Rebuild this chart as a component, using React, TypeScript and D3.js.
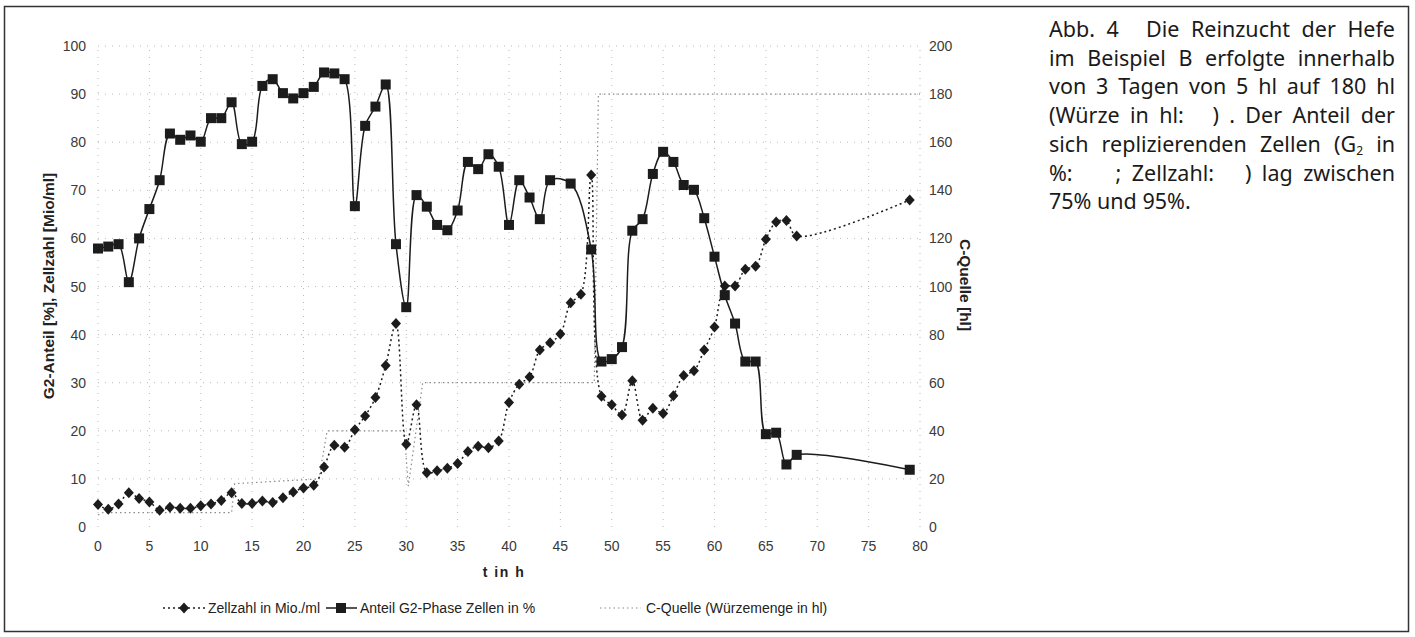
import React from "react";
import * as d3 from "d3";

// ---- data ----
const zellT = [0,1,2,3,4,5,6,7,8,9,10,11,12,13,14,15,16,17,18,19,20,21,22,23,24,25,26,27,28,29,30,31,32,33,34,35,36,37,38,39,40,41,42,43,44,45,46,47,48,49,50,51,52,53,54,55,56,57,58,59,60,61,62,63,64,65,66,67,68,79];
const zellV = [4.7,3.7,4.8,7.1,5.9,5.2,3.5,4.1,3.9,3.9,4.4,4.8,5.5,7.1,4.9,4.9,5.4,5.1,6.1,7.3,8.1,8.7,12.5,17.0,16.6,20.2,23.1,26.9,33.6,42.3,17.2,25.4,11.3,11.7,12.2,13.2,15.7,16.8,16.5,17.9,25.9,29.7,31.2,36.8,38.3,40.1,46.6,48.4,73.2,27.2,25.4,23.3,30.4,22.2,24.7,23.6,27.3,31.5,32.5,36.8,41.6,50.1,50.1,53.6,54.2,59.8,63.4,63.7,60.5,68.0];

const g2T = [0,1,2,3,4,5,6,7,8,9,10,11,12,13,14,15,16,17,18,19,20,21,22,23,24,25,26,27,28,29,30,31,32,33,34,35,36,37,38,39,40,41,42,43,44,46,48,49,50,51,52,53,54,55,56,57,58,59,60,61,62,63,64,65,66,67,68,79];
const g2V = [57.9,58.3,58.8,50.9,60.0,66.1,72.1,81.8,80.5,81.4,80.1,85.0,85.0,88.3,79.6,80.1,91.7,93.1,90.2,89.1,90.2,91.5,94.5,94.3,93.1,66.7,83.4,87.4,92.0,58.8,45.7,69.0,66.6,62.8,61.7,65.8,75.9,74.4,77.5,74.9,62.8,72.1,68.5,64.0,72.1,71.4,57.7,34.4,34.9,37.4,61.6,64.0,73.4,78.0,75.9,71.1,70.1,64.2,56.2,48.2,42.3,34.4,34.4,19.3,19.6,13.0,15.0,11.9];

// C-Quelle (wort volume in hl, right axis) - step-like course
const cqT = [0,0.5,13,13.3,21.5,22.3,29.8,30.2,31.6,48.3,48.7,80];
const cqV = [5,6,6,18,20,40,40,17,60,60,180,180];

const xTicks = [0,5,10,15,20,25,30,35,40,45,50,55,60,65,70,75,80];
const leftTicks = [0,10,20,30,40,50,60,70,80,90,100];
const rightTicks = [0,20,40,60,80,100,120,140,160,180,200];

// caption tokens; "_N" = blank of N px (removed symbol), "(G2" rendered with subscript
const captionLines: string[][] = [
  ["Abb.", "4", "_4", "Die", "Reinzucht", "der", "Hefe"],
  ["im", "Beispiel", "B", "erfolgte", "innerhalb"],
  ["von", "3", "Tagen", "von", "5", "hl", "auf", "180", "hl"],
  ["(Würze", "in", "hl:", "_8", ")", ".", "Der", "Anteil", "der"],
  ["sich", "replizierenden", "Zellen", "(G2", "in"],
  ["%:", "_22", ";", "Zellzahl:", "_10", ")", "lag", "zwischen"],
  ["75%", "und", "95%."],
];

const FONT = "'Liberation Sans', Arial, sans-serif";
const CAP_FONT = "'Noto Sans', 'Open Sans', sans-serif";
const CAP_SIZE = 21.5;
const SUB_SIZE = 12;

let ctx: CanvasRenderingContext2D | null = null;
function measure(text: string, size: number): number {
  if (!ctx && typeof document !== "undefined") {
    ctx = document.createElement("canvas").getContext("2d");
  }
  if (!ctx) return text.length * size * 0.55;
  ctx.font = `${size}px ${CAP_FONT}`;
  return ctx.measureText(text).width;
}
function tokenWidth(tok: string): number {
  if (tok.startsWith("_")) return Number(tok.slice(1));
  if (tok === "(G2") return measure("(G", CAP_SIZE) + measure("2", SUB_SIZE);
  return measure(tok, CAP_SIZE);
}

export default function App() {
  const x = d3.scaleLinear().domain([0, 80]).range([98, 920]);
  const yL = d3.scaleLinear().domain([0, 100]).range([527, 46]);
  const yR = d3.scaleLinear().domain([0, 200]).range([527, 46]);

  const lineL = d3
    .line<[number, number]>()
    .x((d) => x(d[0]))
    .y((d) => yL(d[1]))
    .curve(d3.curveCatmullRom.alpha(0.5));
  const lineCQ = d3
    .line<[number, number]>()
    .x((d) => x(d[0]))
    .y((d) => yR(d[1]));

  const zell = zellT.map((t, i) => [t, zellV[i]] as [number, number]);
  const g2 = g2T.map((t, i) => [t, g2V[i]] as [number, number]);
  const cq = cqT.map((t, i) => [t, cqV[i]] as [number, number]);

  const ink = "#1c1c1c";
  const diamond = (cx: number, cy: number, k: string | number) => (
    <path key={k} d={`M${cx},${cy - 5.5}L${cx + 5},${cy}L${cx},${cy + 5.5}L${cx - 5},${cy}Z`} fill={ink} />
  );
  const square = (cx: number, cy: number, k: string | number) => (
    <rect key={k} x={cx - 5} y={cy - 5} width={10} height={10} fill={ink} />
  );

  const capX = 1049;
  const capW = 346;
  const capY0 = 37;
  const capDY = 28.7;
  const spaceW = measure(" ", CAP_SIZE);

  const captionEls: React.ReactNode[] = [];
  captionLines.forEach((toks, li) => {
    const y = capY0 + li * capDY;
    const widths = toks.map(tokenWidth);
    const total = widths.reduce((a, b) => a + b, 0);
    const last = li === captionLines.length - 1;
    const gap = last ? spaceW : Math.max(2, (capW - total) / (toks.length - 1));
    let cx = capX;
    toks.forEach((tok, ti) => {
      if (!tok.startsWith("_")) {
        if (tok === "(G2") {
          const gw = measure("(G", CAP_SIZE);
          captionEls.push(
            <text key={`c${li}-${ti}`} x={cx} y={y}>(G</text>
          );
          captionEls.push(
            <text key={`c${li}-${ti}s`} x={cx + gw} y={y + 3.5} fontSize={SUB_SIZE}>2</text>
          );
        } else {
          captionEls.push(
            <text key={`c${li}-${ti}`} x={cx} y={y}>{tok}</text>
          );
        }
      }
      cx += widths[ti] + gap;
    });
  });

  return (
    <svg
      width={1415}
      height={637}
      style={{ position: "absolute", left: 0, top: 0, background: "#fff" }}
      fontFamily={FONT}
    >
      <rect x={4.5} y={6.5} width={1404} height={625} fill="none" stroke="#333" strokeWidth={1.5} />

      {/* faint dotted grid */}
      <g stroke="#777" strokeWidth={1} strokeDasharray="1,6" opacity={0.5}>
        {leftTicks.filter((v) => v > 0).map((v) => (
          <line key={"h" + v} x1={x(0)} x2={x(80)} y1={yL(v)} y2={yL(v)} />
        ))}
        {xTicks.map((t) => (
          <line key={"v" + t} x1={x(t)} x2={x(t)} y1={yL(0)} y2={yL(100)} />
        ))}
      </g>

      {/* C-Quelle */}
      <path d={lineCQ(cq) || ""} fill="none" stroke="#8a8a8a" strokeWidth={1.2} strokeDasharray="1.5,3" />

      {/* Zellzahl */}
      <path d={lineL(zell) || ""} fill="none" stroke={ink} strokeWidth={1.5} strokeDasharray="2,3" />
      {zell.map((d, i) => diamond(x(d[0]), yL(d[1]), "z" + i))}

      {/* G2 */}
      <path d={lineL(g2) || ""} fill="none" stroke={ink} strokeWidth={1.5} />
      {g2.map((d, i) => square(x(d[0]), yL(d[1]), "g" + i))}

      {/* axes labels */}
      <g fontSize={14} fill="#3a3a3a">
        {leftTicks.map((v) => (
          <text key={"l" + v} x={86} y={yL(v) + 5} textAnchor="end">{v}</text>
        ))}
        {rightTicks.map((v) => (
          <text key={"r" + v} x={929} y={yR(v) + 5}>{v}</text>
        ))}
        {xTicks.map((t) => (
          <text key={"x" + t} x={x(t)} y={551} textAnchor="middle">{t}</text>
        ))}
      </g>

      <text x={504} y={577} textAnchor="middle" fontSize={14} fontWeight="bold" fill="#222" letterSpacing={1.5}>t in h</text>
      <text
        transform={`translate(54,286) rotate(-90)`}
        textAnchor="middle"
        fontSize={15.5}
        fontWeight="bold"
        fill="#222"
      >
        G2-Anteil [%], Zellzahl [Mio/ml]
      </text>
      <text
        transform={`translate(960,285) rotate(90)`}
        textAnchor="middle"
        fontSize={15.5}
        fontWeight="bold"
        fill="#222"
      >
        C-Quelle [hl]
      </text>

      {/* legend */}
      <g fontSize={14} fill="#222">
        <line x1={163} x2={205} y1={608} y2={608} stroke={ink} strokeWidth={1.5} strokeDasharray="2,3" />
        {diamond(184, 608, "ld")}
        <text x={208} y={613}>Zellzahl in Mio./ml</text>
        <line x1={326} x2={357} y1={608} y2={608} stroke={ink} strokeWidth={1.5} />
        {square(341, 608, "ls")}
        <text x={360} y={613}>Anteil G2-Phase Zellen in %</text>
        <line x1={600} x2={641} y1={608} y2={608} stroke="#8a8a8a" strokeWidth={1.2} strokeDasharray="1.5,3" />
        <text x={646} y={613}>C-Quelle (Würzemenge in hl)</text>
      </g>

      {/* caption */}
      <g fontFamily={CAP_FONT} fontSize={CAP_SIZE} fill="#1a1a1a">
        {captionEls}
      </g>
    </svg>
  );
}
